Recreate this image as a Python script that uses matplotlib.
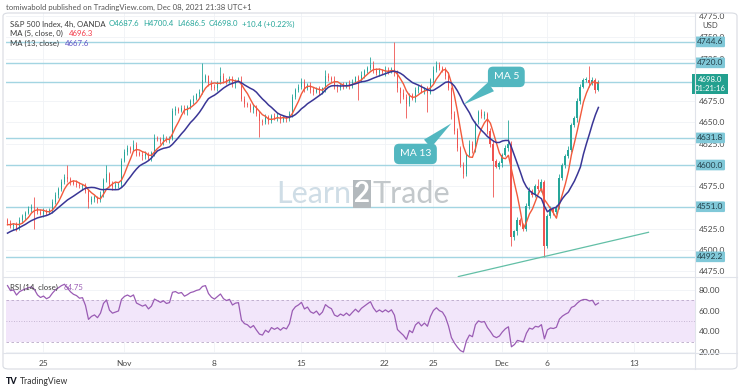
#!/usr/bin/env python3
"""
S&P 500 4h chart with MA 5 / MA 13 and RSI, TradingView style
"""

import numpy as np
import pandas as pd
import matplotlib
matplotlib.use('Agg')
import matplotlib.pyplot as plt
from matplotlib.patches import FancyBboxPatch
from matplotlib.lines import Line2D

plt.rcParams['font.family'] = ['Lato', 'DejaVu Sans']

# bars before the visible window (only used to warm up MA / RSI)
warmup_closes = [4478, 4485, 4482, 4490, 4496, 4494, 4500, 4505, 4503, 4510,
                 4512, 4508, 4515, 4520, 4518, 4524, 4528, 4525, 4530, 4535]

# 4h closes, Oct 22 -> Dec 8
closes = [
    4532, 4528, 4530, 4526, 4535, 4540, 4544, 4548, 4551, 4549, 4545, 4543, 4546, 4544, 4547, 4556, 4565, 4572, 4580, 4586,
    4583, 4580, 4578, 4577, 4575, 4576, 4570, 4556, 4560, 4562, 4559, 4565, 4582, 4590, 4578, 4574, 4576, 4578, 4605, 4615,
    4620, 4618, 4624, 4614, 4612, 4610, 4613, 4608, 4614, 4632, 4630, 4628, 4632, 4629, 4631, 4663, 4666, 4664, 4667, 4663,
    4668, 4675, 4678, 4683, 4686, 4700, 4704, 4696, 4692, 4690, 4697, 4705, 4700, 4698, 4701, 4695, 4699, 4700, 4678, 4672,
    4670, 4665, 4668, 4660, 4652, 4650, 4656, 4652, 4658, 4655, 4657, 4653, 4656, 4654, 4660, 4680, 4688, 4692, 4698, 4690,
    4694, 4688, 4686, 4690, 4685, 4690, 4705, 4702, 4700, 4692, 4690, 4694, 4692, 4696, 4693, 4698, 4703, 4700, 4706, 4710,
    4714, 4718, 4712, 4708, 4711, 4709, 4712, 4710, 4713, 4708, 4690, 4685, 4680, 4672, 4682, 4678, 4688, 4692, 4686, 4690,
    4685, 4700, 4712, 4718, 4714, 4712, 4705, 4690, 4660, 4640, 4620, 4600, 4590, 4612, 4625, 4618, 4650, 4662, 4658, 4660,
    4640, 4625, 4605, 4598, 4602, 4612, 4620, 4625, 4515, 4522, 4535, 4530, 4525, 4552, 4570, 4565, 4575, 4572, 4580, 4505,
    4540, 4548, 4545, 4550, 4585, 4600, 4610, 4618, 4647, 4655, 4675, 4692, 4700, 4700, 4696, 4700, 4687.6, 4698.0,
]

# wick length above / below the candle body (points)
wick_up = [
    3, 4, 2, 3, 4, 3, 2, 4, 3, 11, 2, 3, 4, 2, 3, 4, 3, 2, 4, 3,
    14, 3, 2, 4, 3, 2, 3, 2, 4, 3, 2, 4, 3, 10, 2, 3, 4, 2, 3, 4,
    3, 2, 5, 3, 2, 4, 3, 2, 3, 4, 2, 3, 4, 2, 3, 4, 3, 2, 4, 3,
    2, 3, 4, 2, 3, 20, 3, 2, 4, 3, 2, 10, 3, 2, 4, 3, 2, 3, 4, 3,
    2, 3, 4, 2, 3, 2, 4, 3, 2, 3, 4, 2, 3, 2, 4, 3, 2, 3, 4, 3,
    2, 3, 4, 2, 3, 2, 7, 3, 2, 4, 3, 2, 3, 2, 4, 3, 2, 3, 4, 3,
    2, 9, 4, 2, 3, 2, 4, 3, 2, 32, 3, 2, 4, 3, 2, 3, 4, 2, 3, 2,
    3, 2, 4, 4, 3, 2, 3, 4, 2, 3, 4, 2, 3, 2, 4, 3, 2, 3, 4, 3,
    2, 3, 4, 2, 3, 2, 4, 28, 3, 2, 4, 3, 2, 3, 4, 2, 3, 8, 3, 2,
    3, 4, 2, 3, 4, 2, 3, 4, 2, 3, 4, 3, 2, 3, 16, 3, 2, 2.4,
]
wick_dn = [
    3, 2, 4, 3, 2, 3, 4, 2, 3, 24, 3, 2, 4, 3, 2, 3, 2, 4, 3, 2,
    3, 4, 2, 3, 2, 4, 3, 6, 2, 3, 4, 2, 3, 2, 4, 3, 2, 3, 4, 2,
    3, 4, 2, 3, 2, 4, 3, 2, 3, 4, 2, 3, 4, 2, 3, 2, 4, 3, 2, 3,
    4, 2, 3, 2, 4, 3, 2, 3, 4, 2, 3, 2, 4, 3, 2, 3, 4, 2, 3, 4,
    2, 3, 4, 2, 19, 3, 2, 4, 3, 2, 3, 4, 2, 3, 2, 4, 3, 2, 3, 4,
    2, 3, 4, 2, 3, 2, 4, 3, 2, 3, 4, 2, 3, 2, 4, 3, 2, 24, 3, 4,
    2, 3, 4, 2, 3, 2, 4, 3, 2, 3, 4, 12, 2, 17, 3, 2, 4, 3, 2, 3,
    23, 2, 4, 3, 2, 3, 4, 2, 6, 4, 3, 2, 5, 3, 2, 4, 3, 2, 3, 4,
    3, 4, 43, 2, 3, 4, 2, 3, 10, 3, 4, 2, 3, 2, 4, 3, 2, 3, 4, 13,
    3, 2, 4, 3, 2, 3, 4, 2, 3, 2, 4, 3, 2, 3, 4, 2, 3, 1.1,
]

levels = [4744.6, 4720.0, 4698.0, 4631.8, 4600.0, 4551.0, 4492.2]
level_boxes = [4744.6, 4720.0, 4631.8, 4600.0, 4551.0, 4492.2]
last_price = 4698.0
countdown = '01:21:16'
rsi_last = '64.75'
price_ticks = [4475, 4500, 4525, 4575, 4625, 4650, 4675, 4725, 4750, 4775]
rsi_ticks = [20, 40, 60, 80]

tick_pos = [12, 38.7, 68.7, 98, 125.7, 142, 164.7, 179.7, 209]
tick_labels = ['25', 'Nov', '8', '15', '22', '25', 'Dec', '6', '13']

trend_x = [150.3, 213.7]
trend_y = [4469, 4521]

# (text, box bar, box price, tip bar, tip price)
callouts = [('MA 5', 166.3, 4703.5, 152, 4671),
            ('MA 13', 136, 4613, 148, 4649)]

W, H = 740, 390
UP, DOWN = '#26a69a', '#ef5350'
FS = 5.6


def px(x, y):
    return x / W, 1 - y / H


# ---- indicators ----
s = pd.Series(warmup_closes + closes, dtype=float)
n0 = len(warmup_closes)
c = np.array(closes, dtype=float)
o = s.shift(1).values[n0:]
hi = np.maximum(o, c) + np.array(wick_up)
lo = np.minimum(o, c) - np.array(wick_dn)
ma5 = s.rolling(5).mean().values[n0:]
ma13 = s.rolling(13).mean().values[n0:]
d = s.diff()
gain = d.clip(lower=0).ewm(alpha=1 / 14, adjust=False).mean()
loss = (-d.clip(upper=0)).ewm(alpha=1 / 14, adjust=False).mean()
rsi = (100 - 100 / (1 + gain / loss)).values[n0:]
x = np.arange(len(closes))

fig = plt.figure(figsize=(W / 100, H / 100), dpi=100, facecolor='white')
L, R = 6, 695
ax = fig.add_axes([L / W, 1 - 277 / H, (R - L) / W, (277 - 13) / H])
ax2 = fig.add_axes([L / W, 1 - 353 / H, (R - L) / W, (353 - 277) / H])

for a in (ax, ax2):
    a.set_xlim(-0.5, 229.2)
    for sp in a.spines.values():
        sp.set_visible(False)
    a.set_xticks(tick_pos)
    a.tick_params(axis='x', length=0, labelsize=6, labelcolor='#4a4a4a', pad=5)
    a.yaxis.tick_right()
    a.tick_params(axis='y', length=0, labelsize=6, labelcolor='#4a4a4a', pad=2.5)
    a.grid(True, color='#f0f2f6', lw=0.6)
    a.set_axisbelow(True)
ax.set_xticklabels([])
ax2.set_xticklabels(tick_labels)

# ---- main panel ----
ax.set_ylim(4468.5, 4778.5)
ax.set_yticks(price_ticks)
ax.set_yticklabels([f'{v:.1f}' for v in price_ticks])

for lv in levels:
    ax.axhline(lv, color='#a3d5e2', lw=1.0, zorder=1)

cols = np.where(c >= o, UP, DOWN)
ax.vlines(x, lo, hi, colors=cols, lw=0.6, zorder=3)
ax.bar(x, np.maximum(np.abs(c - o), 0.6), bottom=np.minimum(o, c), width=0.62,
       color=cols, lw=0, zorder=3)
ax.plot(x, ma5, color='#f25a3c', lw=1.0, zorder=4)
ax.plot(x, ma13, color='#3a3696', lw=1.1, zorder=4)

ax.plot(trend_x, trend_y, color='#62bfa6', lw=0.9, zorder=4, clip_on=False)

for txt, bx, by, tx, ty in callouts:
    ax.annotate(txt, xy=(tx, ty), xytext=(bx, by), ha='center', va='center',
                fontsize=7.5, color='white', zorder=6,
                bbox=dict(boxstyle='round,pad=0.55,rounding_size=0.5', fc='#52b7c0', ec='none'),
                arrowprops=dict(arrowstyle='wedge,tail_width=0.55', fc='#52b7c0', ec='none',
                                mutation_scale=14, shrinkA=0, shrinkB=0))

# right side price boxes
bx_axes = (710 - L) / (R - L)
ytr = ax.get_yaxis_transform()
for lv in level_boxes:
    ax.text(bx_axes, lv, f'{lv:.1f}', transform=ytr, ha='center', va='center', fontsize=6,
            color='#24414b', clip_on=False, zorder=10,
            bbox=dict(boxstyle='round,pad=0.22,rounding_size=0.15', fc='#80c8d8', ec='none'))
ax.text(bx_axes, last_price - 3, f'{last_price:.1f}\n{countdown}', transform=ytr, ha='center',
        va='center', fontsize=5.6, color='white', linespacing=1.25, clip_on=False, zorder=10,
        bbox=dict(boxstyle='square,pad=0.3', fc='#22a08f', ec='none'))

# watermark
fig.text(*px(351, 194), 'Learn', ha='right', va='center', fontsize=22, color='#cfdde6', zorder=0)
fig.text(*px(362, 194), '2', ha='center', va='center', fontsize=20, color='white', fontweight='bold',
         bbox=dict(boxstyle='square,pad=0.05', fc='#b3b9bd', ec='none'), zorder=0)
fig.text(*px(373, 194), 'Trade', ha='left', va='center', fontsize=22, color='#c3c8cb', zorder=0)

# ---- RSI panel ----
ax2.set_ylim(19, 92.6)
ax2.set_yticks(rsi_ticks)
ax2.set_yticklabels([f'{v:.2f}' for v in rsi_ticks])
ax2.axhspan(30, 70, color='#f2e6fa', lw=0, zorder=1)
for lv, ls in ((70, (0, (3, 3))), (30, (0, (3, 3))), (50, (0, (1, 2)))):
    ax2.axhline(lv, color='#b9a8c8', lw=0.6, ls=ls, zorder=2)
ax2.plot(x, rsi, color='#9a5cb4', lw=0.9, zorder=3)

# ---- frame ----
fig.add_artist(FancyBboxPatch(px(3, 369), 734 / W, 356 / H, boxstyle='round,pad=0,rounding_size=0.008',
                              transform=fig.transFigure, fill=False, ec='#d8dbe2', lw=0.8))
for y in (277, 353):
    fig.add_artist(Line2D([3 / W, 737 / W], [1 - y / H] * 2, color='#e0e3ea', lw=0.8))
fig.add_artist(Line2D([R / W] * 2, [1 - 13 / H, 1 - 369 / H], color='#e0e3ea', lw=0.8))


# ---- texts ----
def chain(owner, prev, txt, color, gap=2.5):
    return owner.annotate(txt, xy=(1, 0.5), xycoords=prev, xytext=(gap, 0),
                          textcoords='offset points', ha='left', va='center',
                          fontsize=FS, color=color, annotation_clip=False, zorder=8)


fig.text(*px(6, 7), 'tomiwabold published on TradingView.com, Dec 08, 2021 21:38 UTC+1',
         fontsize=FS, color='#555555', va='center')
t = fig.text(*px(10, 24), 'S&P 500 Index, 4h, OANDA', fontsize=FS, color='#3a3a3a', va='center')
for part in ('O4687.6', 'H4700.4', 'L4686.5', 'C4698.0', '+10.4 (+0.22%)'):
    t = chain(ax, t, part, UP)
t = fig.text(*px(10, 33), 'MA (5, close, 0)', fontsize=FS, color='#3a3a3a', va='center')
chain(ax, t, f'{ma5[-1]:.1f}', '#f23645', gap=4)
t = fig.text(*px(10, 43), 'MA (13, close)', fontsize=FS, color='#3a3a3a', va='center')
chain(ax, t, f'{ma13[-1]:.1f}', '#5b4fc4', gap=4)
fig.text(*px(710, 25), 'USD', fontsize=FS, color='#4a4a4a', va='center', ha='center')
t = fig.text(*px(10, 287), 'RSI (14, close)', fontsize=FS, color='#3a3a3a', va='center', zorder=8)
chain(ax2, t, rsi_last, '#9a5cb4', gap=4)
fig.text(*px(6, 381), 'TV', fontsize=6.5, color='#131722', fontweight='black', va='center')
fig.text(*px(20, 381), 'TradingView', fontsize=6.2, color='#333333', va='center')

plt.savefig('out.png', dpi=100)
